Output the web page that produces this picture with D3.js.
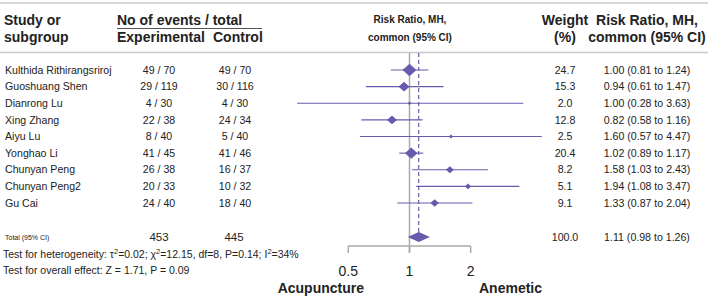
<!DOCTYPE html>
<html><head><meta charset="utf-8">
<script src="https://cdn.jsdelivr.net/npm/d3@7"></script>
<style>body{margin:0;background:#fff}svg{display:block;font-family:"Liberation Sans",Arial,sans-serif}</style>
</head><body><svg id="c" width="708" height="297"></svg>
<script>
const studies = ["Kulthida Rithirangsriroj","Guoshuang Shen","Dianrong Lu","Xing Zhang","Aiyu Lu","Yonghao Li","Chunyan Peng","Chunyan Peng2","Gu Cai"];
const expEvents = ["49 / 70","29 / 119","4 / 30","22 / 38","8 / 40","41 / 45","26 / 38","20 / 33","24 / 40"];
const ctrlEvents = ["49 / 70","30 / 116","4 / 30","24 / 34","5 / 40","41 / 46","16 / 37","10 / 32","18 / 40"];
const weights = [24.7,15.3,2.0,12.8,2.5,20.4,8.2,5.1,9.1];
const rr = [1.00,0.94,1.00,0.82,1.60,1.02,1.58,1.94,1.33];
const lo = [0.81,0.61,0.28,0.58,0.57,0.89,1.03,1.08,0.87];
const hi = [1.24,1.47,3.63,1.16,4.47,1.17,2.43,3.47,2.04];
const total = {exp:"453", ctrl:"445", weight:"100.0", rr:1.11, lo:0.98, hi:1.26};
const axisTicks = [0.5,1,2];

const svg = d3.select("#c");
const purple = "#6a5aad";
const x = d3.scaleLog().domain([0.5,2]).range([348.3,470.7]);
const y = d3.scalePoint().domain(studies).range([70,203]);
const totalY = 237;

// rules
svg.append("line").attr("x1",0).attr("x2",708).attr("y1",3).attr("y2",3).attr("stroke","#c8c8c8").attr("stroke-width",1.5);
svg.append("line").attr("x1",0).attr("x2",708).attr("y1",52.5).attr("y2",52.5).attr("stroke","#c8c8c8").attr("stroke-width",1.5);

// headers
const hb = (t,xx,yy,anchor,size)=>svg.append("text").attr("x",xx).attr("y",yy).attr("text-anchor",anchor||"start")
  .attr("font-weight","bold").attr("font-size",size||14).attr("fill","#222").text(t);
hb("Study or",4,25);
hb("subgroup",4,42);
hb("No of events / total",117,25);
svg.append("line").attr("x1",117).attr("x2",262).attr("y1",28.5).attr("y2",28.5).attr("stroke","#555").attr("stroke-width",1);
hb("Experimental",117,42);
hb("Control",213,42);
hb("Risk Ratio, MH,",410,23,"middle",10);
hb("common (95% CI)",410,41,"middle",10);
hb("Weight",565,25,"middle");
hb("(%)",565,42,"middle");
hb("Risk Ratio, MH,",647,25,"middle");
hb("common (95% CI)",647,42,"middle");

// reference lines
svg.append("line").attr("x1",x(1)).attr("x2",x(1)).attr("y1",53).attr("y2",253).attr("stroke","#aaa").attr("stroke-width",1.5);
svg.append("line").attr("x1",x(total.rr)).attr("x2",x(total.rr)).attr("y1",53).attr("y2",totalY-5)
  .attr("stroke",purple).attr("stroke-width",1.2).attr("stroke-dasharray","4,3");

// axis
const ax = svg.append("g").attr("transform","translate(0,246)");
ax.append("line").attr("x1",x(0.5)).attr("x2",x(2)).attr("stroke","#aaa").attr("stroke-width",1.5);
ax.selectAll(".t").data(axisTicks).enter().append("line").attr("x1",d=>x(d)).attr("x2",d=>x(d)).attr("y1",0).attr("y2",7)
  .attr("stroke","#aaa").attr("stroke-width",1.5);
ax.selectAll(".l").data(axisTicks).enter().append("text").attr("x",d=>x(d)).attr("y",30).attr("text-anchor","middle")
  .attr("font-size",14).attr("fill","#222").text(d=>d);
hb("Acupuncture",364,293,"end");
hb("Anemetic",479,293,"start");

// rows
const rows = svg.selectAll(".row").data(studies).enter().append("g");
const ty = d=>y(d)+3.7;
rows.append("text").attr("x",5).attr("y",ty).attr("font-size",10.6).attr("fill","#222").text(d=>d);
rows.append("text").attr("x",159).attr("y",ty).attr("text-anchor","middle").attr("font-size",10.6).attr("fill","#222").text((d,i)=>expEvents[i]);
rows.append("text").attr("x",235).attr("y",ty).attr("text-anchor","middle").attr("font-size",10.6).attr("fill","#222").text((d,i)=>ctrlEvents[i]);
rows.append("text").attr("x",565).attr("y",ty).attr("text-anchor","middle").attr("font-size",10.6).attr("fill","#222").text((d,i)=>weights[i].toFixed(1));
rows.append("text").attr("x",647).attr("y",ty).attr("text-anchor","middle").attr("font-size",10.6).attr("fill","#222")
  .text((d,i)=>`${rr[i].toFixed(2)} (${lo[i].toFixed(2)} to ${hi[i].toFixed(2)})`);
rows.append("line").attr("x1",(d,i)=>x(lo[i])).attr("x2",(d,i)=>x(hi[i])).attr("y1",d=>y(d)).attr("y2",d=>y(d))
  .attr("stroke",purple).attr("stroke-width",1.1);
rows.append("path").attr("fill",purple).attr("d",(d,i)=>{
  const cx=x(rr[i]), cy=y(d), h=1.4*Math.sqrt(weights[i]), v=1.25*Math.sqrt(weights[i]);
  return `M${cx-h},${cy}L${cx},${cy-v}L${cx+h},${cy}L${cx},${cy+v}Z`;
});

// total
svg.append("text").attr("x",5).attr("y",totalY+2.5).attr("font-size",7).attr("fill","#222").text("Total (95% CI)");
svg.append("text").attr("x",159).attr("y",totalY+4).attr("text-anchor","middle").attr("font-size",11.5).attr("fill","#222").text(total.exp);
svg.append("text").attr("x",234).attr("y",totalY+4).attr("text-anchor","middle").attr("font-size",11.5).attr("fill","#222").text(total.ctrl);
svg.append("text").attr("x",565).attr("y",totalY+3.7).attr("text-anchor","middle").attr("font-size",10.6).attr("fill","#222").text(total.weight);
svg.append("text").attr("x",647).attr("y",totalY+3.7).attr("text-anchor","middle").attr("font-size",10.6).attr("fill","#222")
  .text(`${total.rr.toFixed(2)} (${total.lo.toFixed(2)} to ${total.hi.toFixed(2)})`);
svg.append("path").attr("fill",purple)
  .attr("d",`M${x(total.lo)},${totalY}L${x(total.rr)},${totalY-5}L${x(total.hi)},${totalY}L${x(total.rr)},${totalY+5}Z`);

// tests
const het = svg.append("text").attr("x",3).attr("y",258).attr("font-size",10.5).attr("fill","#222");
het.append("tspan").text("Test for heterogeneity: τ");
het.append("tspan").attr("font-size",7.5).attr("dy",-4).text("2");
het.append("tspan").attr("dy",4).text("=0.02; χ");
het.append("tspan").attr("font-size",7.5).attr("dy",-4).text("2");
het.append("tspan").attr("dy",4).text("=12.15, df=8, P=0.14; I");
het.append("tspan").attr("font-size",7.5).attr("dy",-4).text("2");
het.append("tspan").attr("dy",4).text("=34%");
svg.append("text").attr("x",3).attr("y",274).attr("font-size",10.5).attr("fill","#222").text("Test for overall effect: Z = 1.71, P = 0.09");
</script></body></html>
